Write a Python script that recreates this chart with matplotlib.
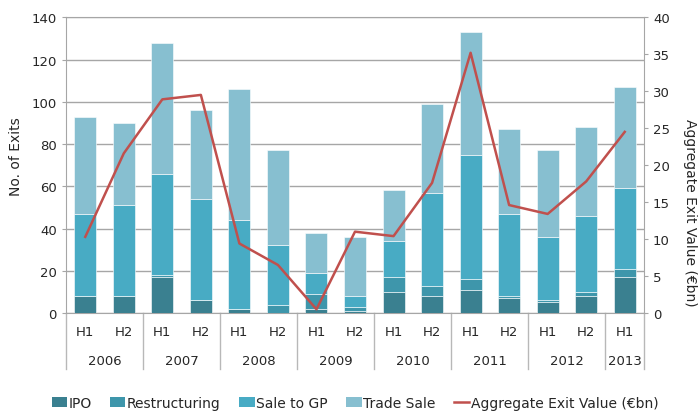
import matplotlib
matplotlib.use("Agg")
import matplotlib.pyplot as plt
import numpy as np
from matplotlib.lines import Line2D
from matplotlib.patches import Patch

# --- data ---
years = ["2006", "2007", "2008", "2009", "2010", "2011", "2012", "2013"]
halves = ["H1", "H2", "H1", "H2", "H1", "H2", "H1", "H2",
          "H1", "H2", "H1", "H2", "H1", "H2", "H1"]
ipo = [8, 8, 17, 6, 2, 0, 2, 1, 10, 8, 11, 7, 5, 8, 17]
restructuring = [0, 0, 1, 0, 0, 4, 7, 2, 7, 5, 5, 1, 1, 2, 4]
sale_to_gp = [39, 43, 48, 48, 42, 28, 10, 5, 17, 44, 59, 39, 30, 36, 38]
trade_sale = [46, 39, 62, 42, 62, 45, 19, 28, 24, 42, 58, 40, 41, 42, 48]
exit_value = [10.3, 21.6, 28.9, 29.5, 9.4, 6.5, 0.5, 11.0,
              10.4, 17.6, 35.2, 14.6, 13.4, 17.8, 24.5]

plt.rcParams["font.family"] = ["DejaVu Sans"]
TXT = "#262626"
GRID = "#a6a6a6"

colors = ["#3a8090", "#3e96ab", "#48abc4", "#87bfd0"]
labels = ["IPO", "Restructuring", "Sale to GP", "Trade Sale"]
series = [ipo, restructuring, sale_to_gp, trade_sale]

W, H = 698, 414
fig = plt.figure(figsize=(6.98, 4.14), dpi=100)
ax = fig.add_axes([66 / W, 1 - 314 / H, (644 - 66) / W, (314 - 18.3) / H])

x = np.arange(len(halves))
bottom = np.zeros(len(x))
for vals, col in zip(series, colors):
    ax.bar(x, vals, width=0.57, bottom=bottom, color=col,
           edgecolor="white", linewidth=0.4, zorder=3)
    bottom += np.array(vals)

ax.set_xlim(-0.5, len(x) - 0.5)
ax.set_ylim(0, 140)
ax.set_yticks(range(0, 141, 20))
ax.yaxis.grid(True, color=GRID, linewidth=1.0, zorder=0)
ax.set_xticks([])
ax.tick_params(axis="y", labelsize=9.5, colors=TXT, length=3, color=GRID)
for sp in ["left", "right", "top", "bottom"]:
    ax.spines[sp].set_color(GRID)

ax2 = ax.twinx()
ax2.plot(x, exit_value, color="#c0504d", linewidth=1.8, zorder=5)
ax2.set_ylim(0, 40)
ax2.set_yticks(range(0, 41, 5))
ax2.tick_params(axis="y", labelsize=9.5, colors=TXT, length=3, color=GRID)
for sp in ["left", "right", "top", "bottom"]:
    ax2.spines[sp].set_visible(False)

fig.text(16 / W, 1 - 157 / H, "No. of Exits", rotation=90, ha="center",
         va="center", fontsize=10, color=TXT)
fig.text(690 / W, 1 - 213 / H, "Aggregate Exit Value (€bn)", rotation=270,
         ha="center", va="center", fontsize=10, color=TXT)

# two-level category axis
trans = ax.get_xaxis_transform()
for xi, h in zip(x, halves):
    ax.text(xi, -0.064, h, transform=trans, ha="center", va="center",
            fontsize=9.5, color=TXT)
bounds = [-0.5]
for i, yr in enumerate(years):
    start = 2 * i - 0.5
    end = min(2 * i + 1.5, len(x) - 0.5)
    bounds.append(end)
    ax.text((start + end) / 2, -0.162, yr, transform=trans, ha="center",
            va="center", fontsize=9.5, color=TXT)
for b in bounds:
    ax.plot([b, b], [0, -0.19], transform=trans, color="#b8b8b8",
            linewidth=1.0, clip_on=False)

handles = [Patch(facecolor=c, edgecolor="none") for c in colors]
handles.append(Line2D([0], [0], color="#c0504d", linewidth=1.8))
fig.legend(handles, labels + ["Aggregate Exit Value (€bn)"],
           loc="center", bbox_to_anchor=(355 / W, 1 - 404 / H), ncol=5,
           frameon=False, fontsize=10, handlelength=1.1, handleheight=0.65,
           handletextpad=0.1, columnspacing=1.35, labelcolor=TXT)

fig.savefig("out.png", dpi=100)
